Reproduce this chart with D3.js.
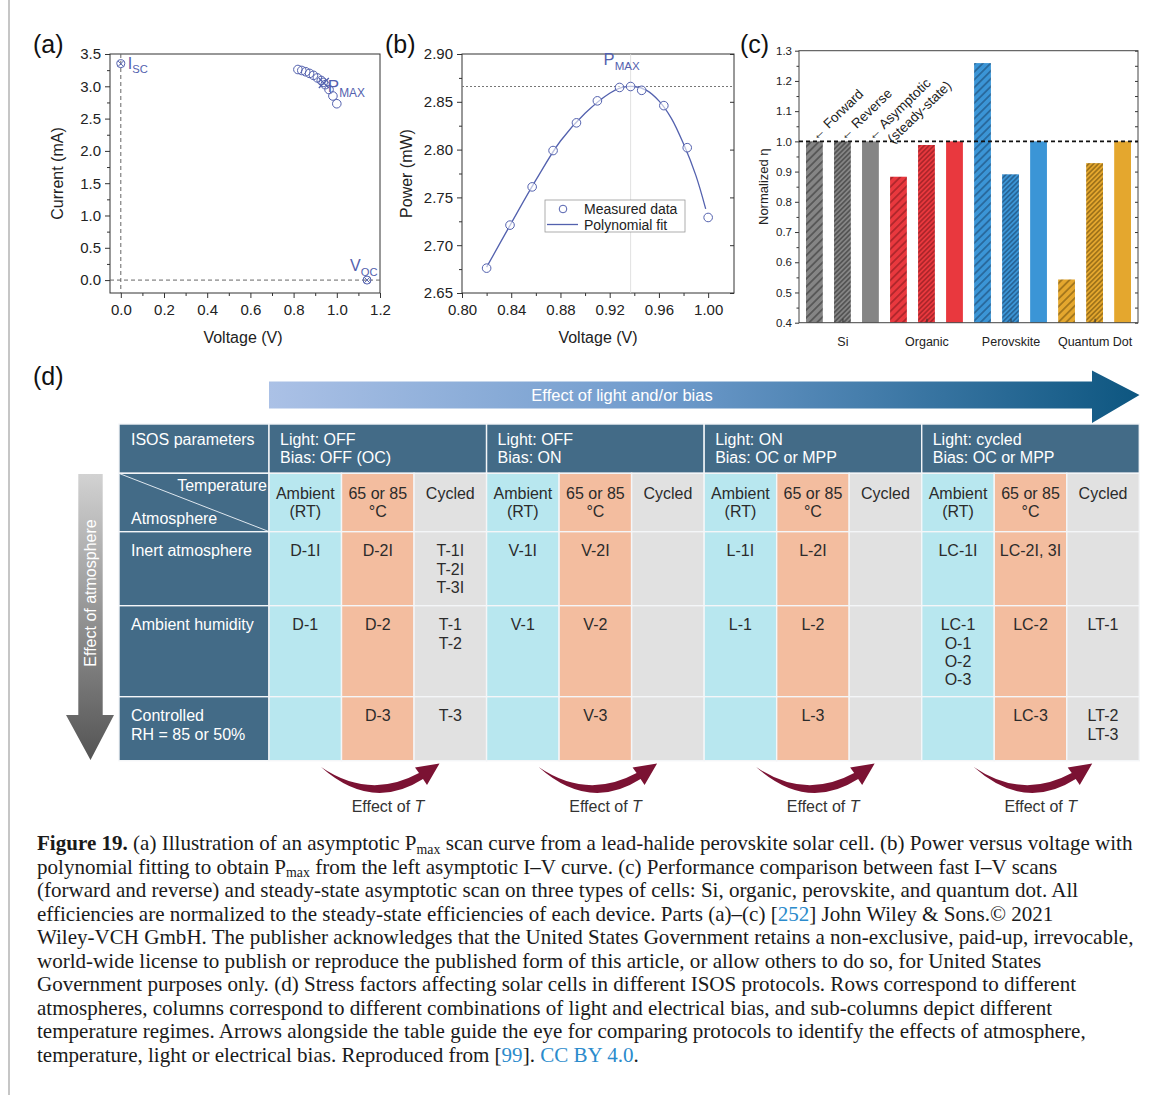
<!DOCTYPE html>
<html>
<head>
<meta charset="utf-8">
<title>Figure 19</title>
<script src="https://cdn.jsdelivr.net/npm/d3@7"></script>
<style>
  body { margin: 0; background: #fff; }
  svg { display: block; }
  text { white-space: pre; }
</style>
</head>
<body>
<svg id="fig" width="1168" height="1095"></svg>
<script>
// ---------- (a) asymptotic I-V scan ----------
const ivVoltage = [0.820, 0.838, 0.856, 0.874, 0.892, 0.910, 0.928, 0.937, 0.946, 0.964, 0.982, 1.000];
const ivCurrent = [3.26, 3.245, 3.225, 3.20, 3.17, 3.13, 3.09, 3.06, 3.025, 2.95, 2.85, 2.73];
const iscPoint = [0.0, 3.35];
const vocPoint = [1.14, 0.0];
const pmaxPoint = [0.94, 3.05];

// ---------- (b) power vs voltage ----------
const pvVoltage = [0.820, 0.839, 0.857, 0.874, 0.893, 0.910, 0.928, 0.937, 0.946, 0.964, 0.983, 1.000];
const pvPower = [2.676, 2.721, 2.761, 2.799, 2.828, 2.851, 2.865, 2.866, 2.862, 2.846, 2.802, 2.729];
const fitVoltage = [0.82, 0.84, 0.86, 0.88, 0.90, 0.92, 0.93, 0.94, 0.95, 0.96, 0.97, 0.98, 0.99, 0.998];
const fitPower = [2.677, 2.723, 2.768, 2.809, 2.838, 2.859, 2.865, 2.866, 2.862, 2.851, 2.833, 2.806, 2.773, 2.738];
const pmaxLevel = 2.866;
const pmaxVoltage = 0.937;

// ---------- (c) normalized efficiency ----------
const cellTypes = ['Si', 'Organic', 'Perovskite', 'Quantum Dot'];
const scanTypes = ['Forward', 'Reverse', 'Asymptotic'];
const siEta = [1.0, 1.0, 1.0];
const organicEta = [0.883, 0.988, 1.0];
const perovskiteEta = [1.259, 0.891, 1.0];
const quantumDotEta = [0.543, 0.928, 1.0];
const cellColors = ['#858585', '#e9383e', '#3b95d6', '#e4a72e'];
const hatchColors = ['#3a3a3a', '#8c1b20', '#1d4c77', '#7a570f'];

// ---------- (d) ISOS table ----------
const groupHeaders = [['Light: OFF', 'Bias: OFF (OC)'], ['Light: OFF', 'Bias: ON'],
                      ['Light: ON', 'Bias: OC or MPP'], ['Light: cycled', 'Bias: OC or MPP']];
const tempHeaders = [['Ambient', '(RT)'], ['65 or 85', '°C'], ['Cycled']];
const rowLabels = [['Inert atmosphere'], ['Ambient humidity'], ['Controlled', 'RH = 85 or 50%']];
const protocolCells = [
  ['D-1I', 'D-2I', 'T-1I\nT-2I\nT-3I', 'V-1I', 'V-2I', '', 'L-1I', 'L-2I', '', 'LC-1I', 'LC-2I, 3I', ''],
  ['D-1', 'D-2', 'T-1\nT-2', 'V-1', 'V-2', '', 'L-1', 'L-2', '', 'LC-1\nO-1\nO-2\nO-3', 'LC-2', 'LT-1'],
  ['', 'D-3', 'T-3', '', 'V-3', '', '', 'L-3', '', '', 'LC-3', 'LT-2\nLT-3']
];

// ---------- caption ----------
const captionLines = [
  [['b', 'Figure 19.'], ['n', ' (a) Illustration of an asymptotic P'], ['s', 'max'], ['n', ' scan curve from a lead-halide perovskite solar cell. (b) Power versus voltage with']],
  [['n', 'polynomial fitting to obtain P'], ['s', 'max'], ['n', ' from the left asymptotic I–V curve. (c) Performance comparison between fast I–V scans']],
  [['n', '(forward and reverse) and steady-state asymptotic scan on three types of cells: Si, organic, perovskite, and quantum dot. All']],
  [['n', 'efficiencies are normalized to the steady-state efficiencies of each device. Parts (a)–(c) ['], ['l', '252'], ['n', '] John Wiley & Sons.© 2021']],
  [['n', 'Wiley-VCH GmbH. The publisher acknowledges that the United States Government retains a non-exclusive, paid-up, irrevocable,']],
  [['n', 'world-wide license to publish or reproduce the published form of this article, or allow others to do so, for United States']],
  [['n', 'Government purposes only. (d) Stress factors affecting solar cells in different ISOS protocols. Rows correspond to different']],
  [['n', 'atmospheres, columns correspond to different combinations of light and electrical bias, and sub-columns depict different']],
  [['n', 'temperature regimes. Arrows alongside the table guide the eye for comparing protocols to identify the effects of atmosphere,']],
  [['n', 'temperature, light or electrical bias. Reproduced from ['], ['l', '99'], ['n', ']. '], ['l', 'CC BY 4.0'], ['n', '.']]
];

const SANS = '"Liberation Sans", Arial, Helvetica, sans-serif';
const SERIF = '"Liberation Serif", "Times New Roman", serif';
const INK = '#222';
const PLOT_BLUE = '#5361ae';

const svg = d3.select('#fig').attr('font-family', SANS);
const defs = svg.append('defs');

// thin page rule on the left
svg.append('line').attr('x1', 9).attr('x2', 9).attr('y1', 0).attr('y2', 1095)
  .attr('stroke', '#c6c6c6').attr('stroke-width', 2);

function styleAxis(sel, size) {
  sel.attr('font-family', SANS).attr('font-size', size);
  sel.selectAll('.domain').remove();
  sel.selectAll('line').attr('stroke', '#333');
  sel.selectAll('text').attr('fill', INK);
}

function panelLabel(txt, x, y) {
  svg.append('text').attr('x', x).attr('y', y).attr('font-size', 25).attr('fill', '#111').text(txt);
}

function crossCircle(g, cx, cy) {
  g.append('circle').attr('cx', cx).attr('cy', cy).attr('r', 4)
    .attr('fill', 'none').attr('stroke', PLOT_BLUE).attr('stroke-width', 1);
  g.append('path').attr('d', `M${cx - 2.8},${cy - 2.8}L${cx + 2.8},${cy + 2.8}M${cx - 2.8},${cy + 2.8}L${cx + 2.8},${cy - 2.8}`)
    .attr('stroke', PLOT_BLUE).attr('stroke-width', 1);
}

function subLabel(g, x, y, main, sub, size) {
  const t = g.append('text').attr('x', x).attr('y', y).attr('fill', PLOT_BLUE).attr('font-size', size);
  t.append('tspan').text(main);
  t.append('tspan').attr('font-size', size * 0.7).attr('dy', size * 0.28).text(sub);
}

// ================= panel (a) =================
{
  const x = d3.scaleLinear().domain([-0.05, 1.2]).range([110, 380]);
  const y = d3.scaleLinear().domain([-0.2, 3.5]).range([293, 54]);
  const [x0, x1] = x.range();
  const [yb, yt] = y.range();
  const g = svg.append('g');

  g.append('g').attr('transform', `translate(0,${yb})`)
    .call(d3.axisBottom(x).tickValues(d3.range(6).map(i => 0.1 + i * 0.2)).tickSize(3).tickFormat(''))
    .call(styleAxis, 15);
  g.append('g').attr('transform', `translate(0,${yb})`)
    .call(d3.axisBottom(x).tickValues(d3.range(7).map(i => i * 0.2)).tickSize(5).tickPadding(6).tickFormat(d3.format('.1f')))
    .call(styleAxis, 15);
  g.append('g').attr('transform', `translate(${x0},0)`)
    .call(d3.axisLeft(y).tickValues(d3.range(7).map(i => 0.25 + i * 0.5)).tickSize(3).tickFormat(''))
    .call(styleAxis, 15);
  g.append('g').attr('transform', `translate(${x0},0)`)
    .call(d3.axisLeft(y).tickValues(d3.range(8).map(i => i * 0.5)).tickSize(5).tickPadding(4).tickFormat(d3.format('.1f')))
    .call(styleAxis, 15);

  g.append('rect').attr('x', x0).attr('y', yt).attr('width', x1 - x0).attr('height', yb - yt)
    .attr('fill', 'none').attr('stroke', '#333');

  g.append('line').attr('x1', x(0)).attr('x2', x(0)).attr('y1', yt).attr('y2', yb)
    .attr('stroke', '#666').attr('stroke-dasharray', '4,3');
  g.append('line').attr('x1', x0).attr('x2', x1).attr('y1', y(0)).attr('y2', y(0))
    .attr('stroke', '#666').attr('stroke-dasharray', '4,3');

  g.selectAll('circle.iv').data(d3.zip(ivVoltage, ivCurrent)).join('circle')
    .attr('class', 'iv')
    .attr('cx', d => x(d[0])).attr('cy', d => y(d[1])).attr('r', 4.3)
    .attr('fill', 'none').attr('stroke', PLOT_BLUE).attr('stroke-width', 1);

  crossCircle(g, x(iscPoint[0]), y(iscPoint[1]));
  crossCircle(g, x(vocPoint[0]), y(vocPoint[1]));
  const px = x(pmaxPoint[0]), py = y(pmaxPoint[1]);
  g.append('path').attr('d', `M${px - 5},${py - 5}L${px + 5},${py + 5}M${px - 5},${py + 5}L${px + 5},${py - 5}`)
    .attr('stroke', PLOT_BLUE).attr('stroke-width', 1.3);

  subLabel(g, x(iscPoint[0]) + 7, y(iscPoint[1]) + 5, 'I', 'SC', 16);
  subLabel(g, px + 4, py + 9, 'P', 'MAX', 17);
  subLabel(g, x(vocPoint[0]) - 17, y(vocPoint[1]) - 9, 'V', 'OC', 16);

  g.append('text').attr('transform', `translate(63,${(yt + yb) / 2}) rotate(-90)`)
    .attr('text-anchor', 'middle').attr('font-size', 16).attr('fill', INK).text('Current (mA)');
  g.append('text').attr('x', (x0 + x1) / 2 - 2).attr('y', 343)
    .attr('text-anchor', 'middle').attr('font-size', 16).attr('fill', INK).text('Voltage (V)');
  panelLabel('(a)', 33, 53);
}

// ================= panel (b) =================
{
  const x = d3.scaleLinear().domain([0.8, 1.021]).range([462, 734]);
  const y = d3.scaleLinear().domain([2.65, 2.90]).range([293, 54]);
  const [x0, x1] = x.range();
  const [yb, yt] = y.range();
  const g = svg.append('g');

  g.append('g').attr('transform', `translate(0,${yb})`)
    .call(d3.axisBottom(x).tickValues(d3.range(5).map(i => 0.82 + i * 0.04)).tickSize(3).tickFormat(''))
    .call(styleAxis, 15);
  g.append('g').attr('transform', `translate(0,${yb})`)
    .call(d3.axisBottom(x).tickValues(d3.range(6).map(i => 0.8 + i * 0.04)).tickSize(5).tickPadding(6).tickFormat(d3.format('.2f')))
    .call(styleAxis, 15);
  g.append('g').attr('transform', `translate(${x0},0)`)
    .call(d3.axisLeft(y).tickValues(d3.range(5).map(i => 2.675 + i * 0.05)).tickSize(3).tickFormat(''))
    .call(styleAxis, 15);
  g.append('g').attr('transform', `translate(${x0},0)`)
    .call(d3.axisLeft(y).tickValues(d3.range(6).map(i => 2.65 + i * 0.05)).tickSize(5).tickPadding(4).tickFormat(d3.format('.2f')))
    .call(styleAxis, 15);
  g.append('g').attr('transform', `translate(${x1},0)`)
    .call(d3.axisRight(y).tickValues(d3.range(6).map(i => 2.65 + i * 0.05)).tickSize(-4).tickFormat(''))
    .call(styleAxis, 15);

  g.append('rect').attr('x', x0).attr('y', yt).attr('width', x1 - x0).attr('height', yb - yt)
    .attr('fill', 'none').attr('stroke', '#333');

  g.append('line').attr('x1', x(pmaxVoltage)).attr('x2', x(pmaxVoltage)).attr('y1', yt).attr('y2', yb)
    .attr('stroke', '#d8d8d8').attr('stroke-width', 0.8);
  g.append('line').attr('x1', x0).attr('x2', x1).attr('y1', y(pmaxLevel)).attr('y2', y(pmaxLevel))
    .attr('stroke', '#777').attr('stroke-dasharray', '2,2');

  const line = d3.line().x(d => x(d[0])).y(d => y(d[1])).curve(d3.curveCatmullRom);
  g.append('path').datum(d3.zip(fitVoltage, fitPower)).attr('d', line)
    .attr('fill', 'none').attr('stroke', PLOT_BLUE).attr('stroke-width', 1.3);

  g.selectAll('circle.pv').data(d3.zip(pvVoltage, pvPower)).join('circle')
    .attr('class', 'pv')
    .attr('cx', d => x(d[0])).attr('cy', d => y(d[1])).attr('r', 4.3)
    .attr('fill', '#fff').attr('fill-opacity', 0.6).attr('stroke', PLOT_BLUE).attr('stroke-width', 1);

  subLabel(g, x(pmaxVoltage) - 27, 65, 'P', 'MAX', 16.5);

  // legend
  const lg = g.append('g').attr('transform', 'translate(545,200)');
  lg.append('rect').attr('width', 140).attr('height', 32).attr('fill', '#fff').attr('stroke', '#999').attr('stroke-width', 0.8);
  lg.append('circle').attr('cx', 18).attr('cy', 9).attr('r', 3.8).attr('fill', 'none').attr('stroke', PLOT_BLUE);
  lg.append('line').attr('x1', 2).attr('x2', 33).attr('y1', 24.5).attr('y2', 24.5).attr('stroke', PLOT_BLUE).attr('stroke-width', 1.3);
  lg.append('text').attr('x', 39).attr('y', 14).attr('font-size', 14).attr('fill', INK).text('Measured data');
  lg.append('text').attr('x', 39).attr('y', 29.5).attr('font-size', 14).attr('fill', INK).text('Polynomial fit');

  g.append('text').attr('transform', `translate(412,${(yt + yb) / 2}) rotate(-90)`)
    .attr('text-anchor', 'middle').attr('font-size', 16).attr('fill', INK).text('Power (mW)');
  g.append('text').attr('x', 598).attr('y', 343)
    .attr('text-anchor', 'middle').attr('font-size', 16).attr('fill', INK).text('Voltage (V)');
  panelLabel('(b)', 385, 53);
}

// ================= panel (c) =================
{
  const etaByCell = [siEta, organicEta, perovskiteEta, quantumDotEta];
  const bars = [];
  cellTypes.forEach((c, ci) => scanTypes.forEach((s, si) => bars.push({ cell: c, ci, scan: s, si, v: etaByCell[ci][si] })));

  const x = d3.scaleBand().domain(d3.range(bars.length)).range([799, 1138]).paddingInner(0.4).paddingOuter(0.25);
  const y = d3.scaleLinear().domain([0.4, 1.3]).range([322.7, 50.7]);
  const [x0, x1] = x.range();
  const [yb, yt] = y.range();
  const g = svg.append('g');

  function hatch(id, base, ink, gap) {
    const p = defs.append('pattern').attr('id', id).attr('patternUnits', 'userSpaceOnUse')
      .attr('width', gap).attr('height', gap).attr('patternTransform', 'rotate(45)');
    p.append('rect').attr('width', gap).attr('height', gap).attr('fill', base);
    p.append('line').attr('x1', gap / 2).attr('x2', gap / 2).attr('y1', 0).attr('y2', gap)
      .attr('stroke', ink).attr('stroke-width', 1.1);
  }
  cellColors.forEach((c, i) => {
    hatch(`hf${i}`, c, hatchColors[i], 5.5);
    hatch(`hr${i}`, c, hatchColors[i], 3.4);
  });
  const fillFor = d => d.si === 0 ? `url(#hf${d.ci})` : d.si === 1 ? `url(#hr${d.ci})` : cellColors[d.ci];

  g.selectAll('rect.bar').data(bars).join('rect').attr('class', 'bar')
    .attr('x', (d, i) => x(i)).attr('width', x.bandwidth())
    .attr('y', d => y(d.v)).attr('height', d => yb - y(d.v))
    .attr('fill', fillFor);

  g.append('g').attr('transform', `translate(${x0},0)`)
    .call(d3.axisLeft(y).tickValues(d3.range(9).map(i => 0.45 + i * 0.1)).tickSize(2.5).tickFormat(''))
    .call(styleAxis, 11.5);
  g.append('g').attr('transform', `translate(${x0},0)`)
    .call(d3.axisLeft(y).tickValues(d3.range(10).map(i => 0.4 + i * 0.1)).tickSize(4).tickPadding(3).tickFormat(d3.format('.1f')))
    .call(styleAxis, 11.5);
  g.append('g').attr('transform', `translate(${x1},0)`)
    .call(d3.axisRight(y).tickValues(d3.range(19).map(i => 0.4 + i * 0.05)).tickSize(-3).tickFormat(''))
    .call(styleAxis, 11.5);

  const groupCenters = cellTypes.map((c, ci) => x(ci * 3 + 1) + x.bandwidth() / 2);
  const xg = d3.scaleOrdinal().domain(cellTypes).range(groupCenters);
  g.append('g').attr('transform', `translate(0,${yb})`)
    .call(d3.axisBottom(xg).tickSize(-4).tickPadding(14))
    .call(styleAxis, 12.5);

  g.append('rect').attr('x', x0).attr('y', yt).attr('width', x1 - x0).attr('height', yb - yt)
    .attr('fill', 'none').attr('stroke', '#444');

  g.append('line').attr('x1', x0).attr('x2', x1).attr('y1', y(1.0)).attr('y2', y(1.0))
    .attr('stroke', '#111').attr('stroke-width', 1.6).attr('stroke-dasharray', '4,3');

  // scan-type annotations on the Si bars
  scanTypes.forEach((s, si) => {
    const tx = x(si) + x.bandwidth() / 2 - 1;
    const ty = y(1.0) - 3;
    const t = g.append('text').attr('transform', `translate(${tx},${ty}) rotate(-44)`)
      .attr('font-size', 13.5).attr('fill', INK).attr('dy', '0.3em');
    t.append('tspan').text('← ' + s);
    if (s === 'Asymptotic') t.append('tspan').attr('x', 13).attr('dy', '1.2em').text('(steady-state)');
  });

  g.append('text').attr('transform', `translate(768,${(yt + yb) / 2}) rotate(-90)`)
    .attr('text-anchor', 'middle').attr('font-size', 13).attr('fill', INK).text('Normalized η');
  panelLabel('(c)', 740, 53);
}

// ================= panel (d) =================
{
  panelLabel('(d)', 33, 385);
  const g = svg.append('g');

  // horizontal "light and/or bias" arrow
  const hg = defs.append('linearGradient').attr('id', 'hArrow').attr('x1', 0).attr('x2', 1).attr('y1', 0).attr('y2', 0);
  hg.append('stop').attr('offset', '0%').attr('stop-color', '#abc1e6');
  hg.append('stop').attr('offset', '45%').attr('stop-color', '#6f9bcc');
  hg.append('stop').attr('offset', '100%').attr('stop-color', '#0d5680');
  g.append('path')
    .attr('d', 'M269,381.5 L1092,381.5 L1092,370.5 L1139.5,395 L1092,423 L1092,408.5 L269,408.5 Z')
    .attr('fill', 'url(#hArrow)');
  g.append('text').attr('x', 622).attr('y', 400.5).attr('text-anchor', 'middle')
    .attr('font-size', 16.5).attr('fill', '#fff').text('Effect of light and/or bias');

  // vertical "atmosphere" arrow
  const vg = defs.append('linearGradient').attr('id', 'vArrow').attr('x1', 0).attr('x2', 0).attr('y1', 0).attr('y2', 1);
  vg.append('stop').attr('offset', '0%').attr('stop-color', '#d2d2d2');
  vg.append('stop').attr('offset', '100%').attr('stop-color', '#545454');
  g.append('path')
    .attr('d', 'M78.3,474 L102.7,474 L102.7,715 L114,715 L90.5,760 L66,715 L78.3,715 Z')
    .attr('fill', 'url(#vArrow)');
  g.append('text').attr('transform', 'translate(96,593) rotate(-90)').attr('text-anchor', 'middle')
    .attr('font-size', 16).attr('fill', '#fff').text('Effect of atmosphere');

  // table geometry
  const col = d3.scaleBand().domain(d3.range(12)).range([269, 1139.3]);
  const rowEdges = [424, 473.3, 531.7, 605.7, 696.7, 760.7];
  const tableLeft = 119;
  const DARK = '#436b87';
  const tempFill = ['#b8e7ef', '#f3bd9f', '#e1e1e1'];
  const CELL_INK = '#2b2b2b';
  const FS = 16, LH = 18.3;

  function cell(x, y, w, h, fill) {
    g.append('rect').attr('x', x).attr('y', y).attr('width', w).attr('height', h)
      .attr('fill', fill).attr('stroke', '#f4f6f8').attr('stroke-width', 1.4);
  }
  function lines(arr, x, y, anchor, fill) {
    const t = g.append('text').attr('x', x).attr('y', y).attr('text-anchor', anchor)
      .attr('font-size', FS).attr('fill', fill);
    arr.forEach((s, i) => t.append('tspan').attr('x', x).attr('dy', i ? LH : 0).text(s));
  }

  // header row 1
  cell(tableLeft, rowEdges[0], col(0) - tableLeft, rowEdges[1] - rowEdges[0], DARK);
  lines(['ISOS parameters'], tableLeft + 12, rowEdges[0] + 20.5, 'start', '#fff');
  groupHeaders.forEach((hdr, gi) => {
    const gx = col(gi * 3);
    cell(gx, rowEdges[0], col.bandwidth() * 3, rowEdges[1] - rowEdges[0], DARK);
    lines(hdr, gx + 11, rowEdges[0] + 20.5, 'start', '#fff');
  });

  // header row 2
  cell(tableLeft, rowEdges[1], col(0) - tableLeft, rowEdges[2] - rowEdges[1], DARK);
  g.append('line').attr('x1', tableLeft + 1).attr('y1', rowEdges[1] + 0.5).attr('x2', col(0) - 1).attr('y2', rowEdges[2] - 0.5)
    .attr('stroke', '#dfe7ee').attr('stroke-width', 1);
  lines(['Temperature'], col(0) - 2, rowEdges[1] + 17.5, 'end', '#fff');
  lines(['Atmosphere'], tableLeft + 12, rowEdges[1] + 51, 'start', '#fff');
  d3.range(12).forEach(ci => {
    const ti = ci % 3;
    cell(col(ci), rowEdges[1], col.bandwidth(), rowEdges[2] - rowEdges[1], tempFill[ti]);
    lines(tempHeaders[ti], col(ci) + col.bandwidth() / 2, rowEdges[1] + 25.5, 'middle', CELL_INK);
  });

  // body rows
  rowLabels.forEach((lab, ri) => {
    const top = rowEdges[ri + 2], h = rowEdges[ri + 3] - top;
    cell(tableLeft, top, col(0) - tableLeft, h, DARK);
    lines(lab, tableLeft + 12, top + 24.5, 'start', '#fff');
    protocolCells[ri].forEach((txt, ci) => {
      cell(col(ci), top, col.bandwidth(), h, tempFill[ci % 3]);
      if (txt) lines(txt.split('\n'), col(ci) + col.bandwidth() / 2, top + 24.5, 'middle', CELL_INK);
    });
  });

  // "Effect of T" curved arrows under each bias group
  groupHeaders.forEach((hdr, gi) => {
    const gx = col(gi * 3);
    g.append('path').attr('transform', `translate(${gx},0)`)
      .attr('d', 'M52,767 Q102.5,812 154,779 L158,785 L170.5,763.5 L146,767.5 L150,773 Q100.5,800 52,767 Z')
      .attr('fill', '#7b1233');
    const t = g.append('text').attr('x', gx + 119).attr('y', 812).attr('text-anchor', 'middle')
      .attr('font-size', FS).attr('fill', '#333');
    t.append('tspan').text('Effect of ');
    t.append('tspan').attr('font-style', 'italic').text('T');
  });
}

// ================= caption =================
function buildCaption(fs) {
  const g = svg.append('g').attr('class', 'caption').attr('font-family', SERIF).attr('font-size', fs).attr('fill', '#1a1a1a');
  const shift = fs * 0.17;
  const texts = captionLines.map((segs, li) => {
    const t = g.append('text').attr('x', 37).attr('y', 850 + li * 23.5);
    let lowered = false;
    segs.forEach(([kind, str]) => {
      const sp = t.append('tspan').text(str);
      if (kind === 's') { sp.attr('font-size', fs * 0.66).attr('dy', shift); lowered = true; return; }
      if (lowered) { sp.attr('dy', -shift); lowered = false; }
      if (kind === 'b') sp.attr('font-weight', 'bold');
      if (kind === 'l') sp.attr('fill', '#2b8bcc');
    });
    return t;
  });
  return { g, width: texts[0].node().getComputedTextLength() };
}
const probe = buildCaption(18);
const captionSize = 18 * 1096 / probe.width;
probe.g.remove();
buildCaption(captionSize);
</script>
</body>
</html>
